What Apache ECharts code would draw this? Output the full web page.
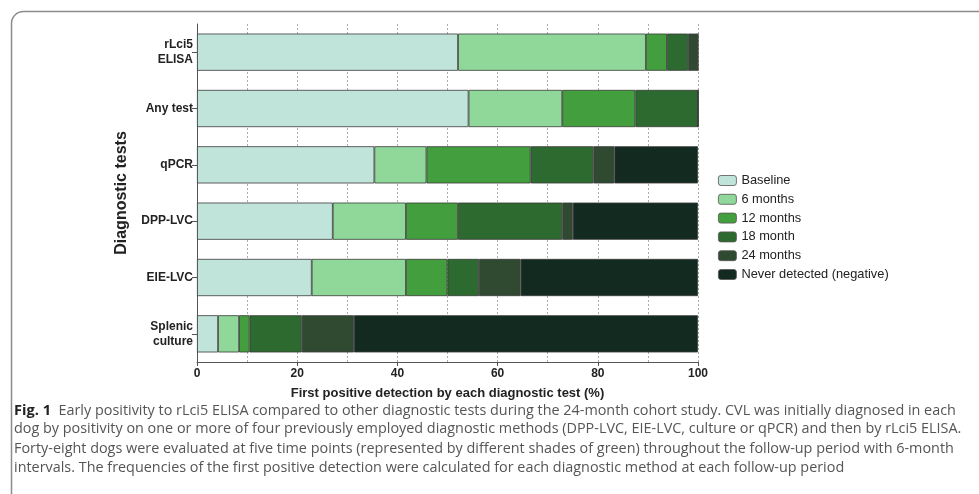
<!DOCTYPE html>
<html><head><meta charset="utf-8">
<script src="https://cdn.jsdelivr.net/npm/echarts@6/dist/echarts.min.js"></script>
<style>html,body{margin:0;padding:0;background:#fff}#c{width:979px;height:494px}</style>
</head><body><div id="c"></div>
<script>
const categories = ['rLci5\nELISA', 'Any test', 'qPCR', 'DPP-LVC', 'EIE-LVC', 'Splenic\nculture'];
const seriesNames = ['Baseline', '6 months', '12 months', '18 month', '24 months', 'Never detected (negative)'];
const baseline = [52.1, 54.2, 35.4, 27.1, 22.9, 4.2];
const m6 = [37.5, 18.7, 10.4, 14.6, 18.8, 4.2];
const m12 = [4.2, 14.6, 20.8, 10.4, 8.3, 2.1];
const m18 = [4.2, 12.5, 12.5, 20.8, 6.3, 10.4];
const m24 = [2.0, 0, 4.2, 2.1, 8.3, 10.4];
const never = [0, 0, 16.7, 25.0, 35.4, 68.7];
const xTicks = [0, 20, 40, 60, 80, 100];
const colors = ['#c1e4da', '#8fd899', '#439f3d', '#2c6a2f', '#304a31', '#132a20'];
const captionLines = [
  '{b|Fig. 1}  Early positivity to rLci5 ELISA compared to other diagnostic tests during the 24-month cohort study. CVL was initially diagnosed in each',
  'dog by positivity on one or more of four previously employed diagnostic methods (DPP-LVC, EIE-LVC, culture or qPCR) and then by rLci5 ELISA.',
  'Forty-eight dogs were evaluated at five time points (represented by different shades of green) throughout the follow-up period with 6-month',
  'intervals. The frequencies of the first positive detection were calculated for each diagnostic method at each follow-up period'
];
const allValues = [baseline, m6, m12, m18, m24, never];

const chart = echarts.init(document.getElementById('c'), null, {renderer: 'canvas'});
const captionTop = [403, 422, 442, 461];
const graphics = [{
  type: 'rect', shape: {x: 11.5, y: 11.5, width: 1100, height: 700, r: [12, 0, 0, 0]},
  style: {fill: 'none', stroke: '#8c8c8c', lineWidth: 1.5}, silent: true
}];
captionLines.forEach((t, i) => {
  graphics.push({
    type: 'text', left: 14, top: captionTop[i],
    style: {
      text: t, fill: '#555', font: '14.4px "Open Sans"',
      rich: {b: {fontFamily: 'Open Sans', fontWeight: 'bold', fontSize: 14.6, fill: '#222'}}
    }
  });
});

chart.setOption({
  animation: false,
  color: colors,
  grid: {left: 197, right: 281, top: 24, bottom: 132},
  legend: {
    orient: 'vertical', left: 713, top: 169, itemWidth: 18, itemHeight: 10, itemGap: 5.8,
    data: seriesNames,
    textStyle: {fontFamily: 'Liberation Sans', fontSize: 12.8, color: '#222'},
    itemStyle: {borderColor: '#555', borderWidth: 0.8}
  },
  xAxis: {
    type: 'value', min: 0, max: 100, interval: 20,
    name: 'First positive detection by each diagnostic test (%)',
    nameLocation: 'middle', nameGap: 25,
    nameTextStyle: {fontFamily: 'Liberation Sans', fontWeight: 'bold', fontSize: 13, color: '#222'},
    axisLine: {show: true, lineStyle: {color: '#555', width: 1}},
    axisTick: {show: true, length: 4, lineStyle: {color: '#555'}},
    axisLabel: {fontFamily: 'Liberation Sans', fontWeight: 'bold', fontSize: 12, color: '#222', margin: 6},
    splitLine: {show: true, lineStyle: {color: '#aaa', type: [2, 2], width: 1}},
    minorTick: {show: false, splitNumber: 2},
    minorSplitLine: {show: true, lineStyle: {color: '#aaa', type: [2, 2], width: 1}}
  },
  yAxis: {
    type: 'category', data: categories, inverse: true,
    name: 'Diagnostic tests', nameLocation: 'middle', nameGap: 67, nameRotate: 90,
    nameTextStyle: {fontFamily: 'Liberation Sans', fontWeight: 'bold', fontSize: 16, color: '#222'},
    axisLine: {show: true, lineStyle: {color: '#555', width: 1}},
    axisTick: {show: true, length: 5, alignWithLabel: true, lineStyle: {color: '#555'}},
    axisLabel: {fontFamily: 'Liberation Sans', fontWeight: 'bold', fontSize: 12, color: '#222', margin: 4, lineHeight: 15}
  },
  series: seriesNames.map((n, i) => ({
    name: n, type: 'bar', stack: 'all', barWidth: '66%',
    data: allValues[i],
    itemStyle: {color: colors[i], borderColor: '#3a3a3a', borderWidth: 0.8}
  })),
  graphic: graphics
});
</script></body></html>
